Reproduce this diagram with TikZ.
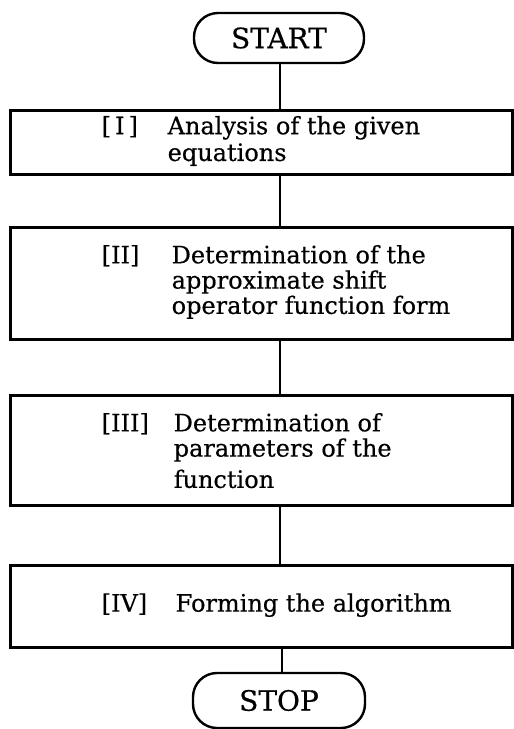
\documentclass[tikz,border=0pt]{standalone}
\usepackage{fontspec}
\setmainfont{DejaVu Serif}[BoldFont={DejaVu Serif},BoldFeatures={FakeBold=0.5}]
\usetikzlibrary{positioning,calc}

\begin{document}
\begin{tikzpicture}[x=1pt,y=-1pt,
  stepbox/.style={draw,line width=3pt,minimum width=502pt,inner sep=0pt},
  terminal/.style={draw,line width=2.4pt,rounded corners=24pt,minimum width=170pt,
    minimum height=50pt,font=\fontsize{28}{30}\selectfont\bfseries},
  steptext/.style={anchor=west,inner sep=0pt,font=\fontsize{24}{23.5}\selectfont\bfseries},
  link/.style={line width=2.4pt}]
  \useasboundingbox (0,0) rectangle (514,729);
  % terminals
  \node[terminal] (start) at (279,38) {START};
  \node[terminal,minimum width=172pt,minimum height=55pt] (stop) at (279,700.5) {STOP};
  % step boxes
  \node[stepbox,minimum height=64pt] (s1) at (261,142) {};
  \node[stepbox,minimum height=112pt] (s2) at (261,283) {};
  \node[stepbox,minimum height=110pt] (s3) at (261,450) {};
  \node[stepbox,minimum height=82pt] (s4) at (261,606) {};
  % step texts
  \node[steptext] (t1) at ([xshift=93pt]s1.west) {\begin{tabular}{@{}p{66pt}@{}l@{}}
    {[}\,I\,{]} & Analysis of the given\\[2pt] & equations\end{tabular}};
  \node[steptext] (t2) at ([xshift=93pt]s2.west) {\begin{tabular}{@{}p{70pt}@{}l@{}}
    {[}II{]} & Determination of the\\ & approximate shift\\ & operator function form\end{tabular}};
  \node[steptext] (t3) at ([xshift=93pt,yshift=-4pt]s3.west) {\begin{tabular}{@{}p{72pt}@{}l@{}}
    {[}III{]} & Determination of\\ & parameters of the\\[6pt] & function\end{tabular}};
  \node[steptext] (t4) at ([xshift=93pt]s4.west) {\begin{tabular}{@{}p{74pt}@{}l@{}}
    {[}IV{]} & Forming the algorithm\end{tabular}};
  % spine
  \coordinate (spine) at (280,0);
  \draw[link] (start.south -| spine) -- (s1.north -| spine);
  \draw[link] (s1.south -| spine) -- (s2.north -| spine);
  \draw[link] (s2.south -| spine) -- (s3.north -| spine);
  \draw[link] (s3.south -| spine) -- (s4.north -| spine);
  \draw[link] ([xshift=2pt]s4.south -| spine) -- ([xshift=2pt]stop.north -| spine);
\end{tikzpicture}
\end{document}
